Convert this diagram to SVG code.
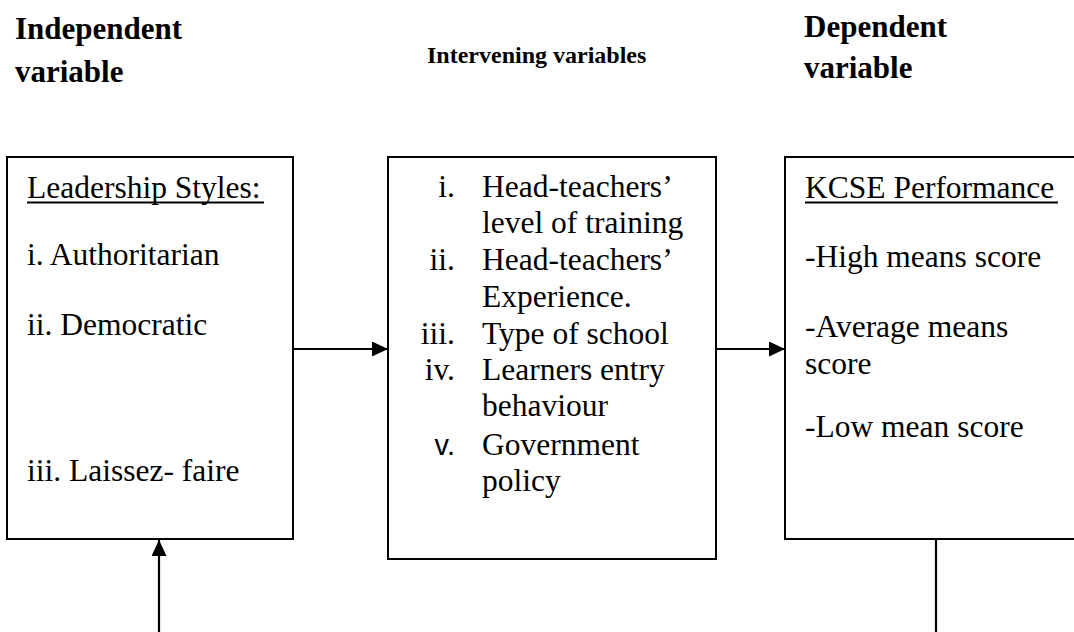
<svg xmlns="http://www.w3.org/2000/svg" width="1074" height="632" viewBox="0 0 1074 632">
  <style>
    .head { font-family: "Liberation Serif", "Times New Roman", serif; font-weight: bold; fill: #000; }
    .body { font-family: "Liberation Serif", "Times New Roman", serif; font-size: 31.5px; fill: #000; }
    .sans { font-family: "Liberation Sans", Arial, sans-serif; }
    .box { fill: #fff; stroke: #000; stroke-width: 2; }
    .rule { stroke: #000; stroke-width: 2; }
    .conn { stroke: #000; stroke-width: 2.2; fill: none; }
  </style>
  <defs>
    <marker id="arrow" viewBox="0 0 16 15" refX="16" refY="7.5" markerWidth="16" markerHeight="15" markerUnits="userSpaceOnUse" orient="auto">
      <path d="M0,0 L16,7.5 L0,15 Z" fill="#000"/>
    </marker>
  </defs>
  <rect width="1074" height="632" fill="#fff"/>

  <!-- column headings -->
  <g id="headings">
    <text class="head" font-size="31" x="15" y="39">Independent</text>
    <text class="head" font-size="31" x="15" y="82">variable</text>
    <text class="head" font-size="24" x="427" y="63">Intervening variables</text>
    <text class="head" font-size="31" x="804" y="37">Dependent</text>
    <text class="head" font-size="31" x="804" y="78">variable</text>
  </g>

  <!-- independent variable box -->
  <g id="leadership-styles">
    <rect class="box" x="7" y="157" width="286" height="382"/>
    <text class="body" x="27" y="198">Leadership Styles:</text>
    <line class="rule" x1="27" y1="202.5" x2="264" y2="202.5"/>
    <text class="body" x="27" y="265">i. Authoritarian</text>
    <text class="body" x="27" y="335">ii. Democratic</text>
    <text class="body" x="27" y="481">iii. Laissez- faire</text>
  </g>

  <!-- intervening variables box -->
  <g id="intervening-variables">
    <rect class="box" x="388" y="157" width="328" height="402"/>
    <g class="body" text-anchor="end">
      <text x="455" y="197">i.</text>
      <text x="455" y="270">ii.</text>
      <text x="455" y="344">iii.</text>
      <text x="455" y="380">iv.</text>
      <text class="sans" font-size="29" x="455" y="455">v.</text>
    </g>
    <g class="body">
      <text x="482" y="197">Head-teachers’</text>
      <text x="482" y="233">level of training</text>
      <text x="482" y="270">Head-teachers’</text>
      <text x="482" y="307">Experience.</text>
      <text x="482" y="344">Type of school</text>
      <text x="482" y="380">Learners entry</text>
      <text x="482" y="416">behaviour</text>
      <text x="482" y="455">Government</text>
      <text x="482" y="491">policy</text>
    </g>
  </g>

  <!-- dependent variable box -->
  <g id="kcse-performance">
    <rect class="box" x="785" y="157" width="300" height="382"/>
    <text class="body" x="805" y="198">KCSE Performance</text>
    <line class="rule" x1="805" y1="202.5" x2="1058" y2="202.5"/>
    <text class="body" x="805" y="267">-High means score</text>
    <text class="body" x="805" y="337">-Average means</text>
    <text class="body" x="805" y="374">score</text>
    <text class="body" x="805" y="437">-Low mean score</text>
  </g>

  <!-- connectors -->
  <g id="connectors">
    <line class="conn" x1="293" y1="349" x2="388" y2="349" marker-end="url(#arrow)"/>
    <line class="conn" x1="716" y1="349" x2="785" y2="349" marker-end="url(#arrow)"/>
    <line class="conn" x1="159" y1="632" x2="159" y2="540" marker-end="url(#arrow)"/>
    <line class="conn" x1="936" y1="539" x2="936" y2="632"/>
  </g>
</svg>
